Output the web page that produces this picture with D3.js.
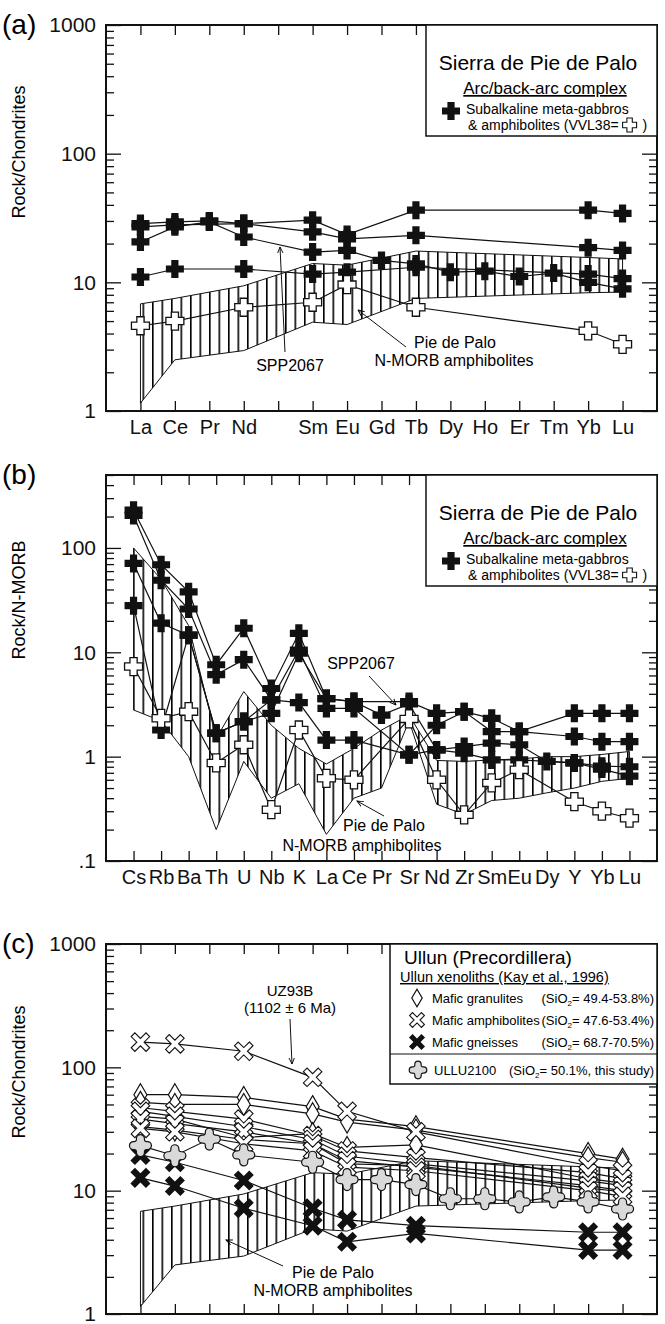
<!DOCTYPE html>
<html>
<head>
<meta charset="utf-8">
<script src="https://cdn.jsdelivr.net/npm/d3@7"></script>
<style>
body { margin: 0; background: #fff; }
svg { display: block; font-family: "Liberation Sans", Arial, sans-serif; }
</style>
</head>
<body>
<svg id="chart" width="665" height="1324"></svg>
<script>
// ---- element orders ----
var reeLabels = ["La", "Ce", "Pr", "Nd", "", "Sm", "Eu", "Gd", "Tb", "Dy", "Ho", "Er", "Tm", "Yb", "Lu"];
var spiderLabels = ["Cs", "Rb", "Ba", "Th", "U", "Nb", "K", "La", "Ce", "Pr", "Sr", "Nd", "Zr", "Sm", "Eu", "Dy", "Y", "Yb", "Lu"];

var yTicksA = [1, 10, 100, 1000];
var yTicksB = [0.1, 1, 10, 100];
var yTicksC = [1, 10, 100, 1000];

// ---- (a) chondrite normalised, Sierra de Pie de Palo ----
var reeGabbro1 = [28.6, 29.5, 30, 28.6, null, 30.4, 23.5, null, 36.4, null, null, null, null, 36.4, 34.3];
var reeGabbro2 = [27, 28, null, 28.6, null, 24.7, 21.8, null, 23.2, null, null, null, null, 18.6, 17.7];
var reeSPP2067 = [20.6, 27, 29.5, 22.5, null, 17.2, 17.7, 14.8, 13.9, 12, 12.2, 11.1, 11.8, 10, 8.9];
var reeGabbro4 = [11, 12.7, null, 12.7, null, 11.6, 12, null, 13.1, null, null, null, null, 11.6, 10.7];
var reeVVL38 = [4.6, 5.0, null, 6.4, null, 7.0, 9.6, null, 6.4, null, null, null, null, 4.2, 3.3];
// N-MORB amphibolite field (also used in c)
var reeMorbUpper = [6.8, 7.5, null, 9.4, null, 14, 13.6, null, 17.5, null, null, null, null, 15.6, 15.2];
var reeMorbLower = [1.15, 2.5, null, 2.95, null, 4.9, 4.7, null, 7.5, null, null, null, null, 8.3, 8.4];

// ---- (b) N-MORB normalised ----
var spGabbro1 = [230, 69, 38, 7.6, 17, 4.5, 15.2, 3.6, 3.37, null, 3.37, 2.6, 2.7, 2.33, 1.74, null, 2.6, 2.6, 2.6];
var spGabbro2 = [205, 49, 26, 6.1, 8.5, 3.5, 10.5, 2.9, 2.9, null, 1.04, 2.0, 2.7, 1.74, 1.74, null, 1.56, 1.39, 1.39];
var spSPP2067 = [71, 19, 14.6, 1.68, 2.17, 2.6, 9.8, 3.6, 3.37, 2.5, 3.2, 1.16, 1.25, 1.35, 1.3, 0.9, 0.87, 0.81, 0.8];
var spGabbro4 = [28, 1.8, 14.6, 1.68, 2.17, 3.5, 3.3, 1.44, 1.44, null, 1.04, 1.16, 1.08, 0.93, 0.93, null, 0.87, 0.76, 0.65];
var spVVL38 = [7.3, 2.33, 2.7, 0.87, 1.3, 0.31, 1.8, 0.62, 0.6, null, 2.3, 0.6, 0.277, 0.56, 0.75, null, 0.37, 0.3, 0.257];
var spMorbUpper = [100, 50, 18, 1.5, 4.2, 2.0, 1.2, 0.85, 1.2, 1.8, 2.5, 0.92, 0.9, 0.93, 0.95, 1.0, 1.0, 1.05, 1.12];
var spMorbLower = [2.8, 2.2, 1.0, 0.2, 0.9, 0.4, 0.55, 0.18, 0.4, 0.5, 2.2, 0.35, 0.28, 0.38, 0.4, 0.45, 0.5, 0.58, 0.62];

// ---- (c) Ullun xenoliths, chondrite normalised ----
var granulites = [
  [60, 60, null, 57, null, 48, 38, null, 33, null, null, null, null, 20, 18],
  [52, 50, null, 50, null, 42, 36, null, 31, null, null, null, null, 18.5, 17],
  [40, 38, null, 27, null, 29, 22.4, null, 23.5, null, null, null, null, 12.5, 11.5],
  [33, 31, null, 26, null, 24, 16.5, null, 16, null, null, null, null, 10.5, 9.8]
];
var amphibolites = [
  [160, 155, null, 135, null, 83, 44, null, 30, null, null, null, null, 16, 14.5],
  [47, 44, null, 38, null, 28, 21, null, 18.5, null, null, null, null, 14, 12.5],
  [44, 40, null, 33, null, 26, 19, null, 16.5, null, null, null, null, 12, 11],
  [38, 35, null, 30, null, 24, 17.5, null, 15.5, null, null, null, null, 11, 10],
  [32, 30, null, 24, null, 21, 15.5, null, 14.5, null, null, null, null, 10, 9]
];
var gneisses = [
  [19.5, 17, null, 12.1, null, 7.2, 5.8, null, 5.2, null, null, null, null, 4.6, 4.6],
  [12.7, 10.9, null, 7.2, null, 5.2, 3.85, null, 4.5, null, null, null, null, 3.3, 3.3]
];
var ullu2100 = [23.2, 19.2, 26.2, 19.5, null, 17, 12.3, 12.3, 11.2, 8.6, 8.6, 8.1, 8.9, 8.1, 7.1];

var ullunLegend = [
  { sym: "diamond", name: "Mafic granulites", si: "49.4-53.8%)" },
  { sym: "xopen", name: "Mafic amphibolites", si: "47.6-53.4%)" },
  { sym: "xfill", name: "Mafic gneisses", si: "68.7-70.5%)" }
];

var boxLeft = 106, boxRight = 657;
var svg = d3.select("#chart");

// ---- defs: hatch + arrow ----
var defs = svg.append("defs");
defs.append("pattern").attr("id", "hatch").attr("patternUnits", "userSpaceOnUse")
  .attr("width", 9.5).attr("height", 8)
  .append("rect").attr("width", 1.6).attr("height", 8).attr("fill", "#000");
defs.append("marker").attr("id", "arrowhead").attr("viewBox", "0 0 10 10")
  .attr("refX", 9).attr("refY", 5).attr("markerWidth", 7).attr("markerHeight", 7)
  .attr("markerUnits", "userSpaceOnUse").attr("orient", "auto")
  .append("path").attr("d", "M0,1 L9,5 L0,9").attr("fill", "none")
  .attr("stroke", "#000").attr("stroke-width", 1.3);

// ---- symbols ----
function plusPath(L, w) {
  return "M" + [-w, -L] + "L" + [w, -L] + "L" + [w, -w] + "L" + [L, -w] + "L" + [L, w] +
    "L" + [w, w] + "L" + [w, L] + "L" + [-w, L] + "L" + [-w, w] + "L" + [-L, w] +
    "L" + [-L, -w] + "L" + [-w, -w] + "Z";
}
function diamondPath(w, h) {
  return "M" + [0, -h] + "L" + [w, 0] + "L" + [0, h] + "L" + [-w, 0] + "Z";
}
function starPath(r, t) {
  var c = t * 0.9;
  return "M" + [-t, -r + t] + "A" + [t, t] + " 0 0 1 " + [t, -r + t] +
    "Q" + [c, -c] + " " + [r - t, -t] + "A" + [t, t] + " 0 0 1 " + [r - t, t] +
    "Q" + [c, c] + " " + [t, r - t] + "A" + [t, t] + " 0 0 1 " + [-t, r - t] +
    "Q" + [-c, c] + " " + [-r + t, t] + "A" + [t, t] + " 0 0 1 " + [-r + t, -t] +
    "Q" + [-c, -c] + " " + [-t, -r + t] + "Z";
}

function symbol(g, type, cx, cy, big) {
  var s = big === false ? 0.8 : 1;
  var p;
  if (type === "plusfill") {
    p = g.append("path").attr("d", plusPath(9 * s, 3.6 * s)).attr("fill", "#111");
  } else if (type === "plusopen") {
    p = g.append("path").attr("d", plusPath(9 * s, 3.6 * s)).attr("fill", "#fff")
      .attr("stroke", "#111").attr("stroke-width", 1.3);
  } else if (type === "diamond") {
    p = g.append("path").attr("d", diamondPath(6.5 * s, 11 * s)).attr("fill", "#fff")
      .attr("stroke", "#111").attr("stroke-width", 1.2);
  } else if (type === "xopen") {
    p = g.append("path").attr("d", plusPath(10.5 * s, 2.6 * s)).attr("fill", "#fff")
      .attr("stroke", "#111").attr("stroke-width", 1.1);
  } else if (type === "xfill") {
    p = g.append("path").attr("d", plusPath(11 * s, 3.2 * s)).attr("fill", "#111");
  } else {
    p = g.append("path").attr("d", starPath(11 * s, 4 * s)).attr("fill", "#d9d9d9")
      .attr("stroke", "#111").attr("stroke-width", 1.2);
  }
  var rot = (type === "xopen" || type === "xfill") ? " rotate(45)" : "";
  p.attr("transform", "translate(" + cx + "," + cy + ")" + rot);
}

function styleAxis(sel, fs) {
  sel.select(".domain").remove();
  sel.attr("font-family", null).attr("font-size", fs || 20);
  sel.selectAll(".tick line").attr("stroke", "#111").attr("stroke-width", 1.3);
  sel.selectAll(".tick text").attr("fill", "#111");
}

function drawPanel(p) {
  var n = p.labels.length;
  var x = d3.scaleLinear().domain([-1, n]).range([boxLeft, boxRight]);
  var y = d3.scaleLog().domain(p.yDomain).range([p.bottom, p.top]);
  var g = svg.append("g");

  var minor = [];
  var lo = Math.floor(Math.log10(p.yDomain[0])), hi = Math.ceil(Math.log10(p.yDomain[1]));
  for (var e = lo; e < hi; e++) {
    for (var k = 2; k <= 9; k++) {
      var v = k * Math.pow(10, e);
      if (v > p.yDomain[0] * 1.0001 && v <= p.yDomain[1] * 1.0001) minor.push(v);
    }
  }

  var axes = g.append("g");
  axes.append("g").attr("transform", "translate(" + boxLeft + ",0)")
    .call(d3.axisLeft(y).tickValues(p.yTicks).tickSize(-15).tickPadding(10).tickFormat(p.yFormat))
    .call(styleAxis, 21);
  axes.append("g").attr("transform", "translate(" + boxLeft + ",0)")
    .call(d3.axisLeft(y).tickValues(minor).tickSize(-8).tickFormat(""))
    .call(styleAxis);
  axes.append("g").attr("transform", "translate(" + boxRight + ",0)")
    .call(d3.axisRight(y).tickValues(p.yTicks).tickSize(-15).tickFormat(""))
    .call(styleAxis);
  axes.append("g").attr("transform", "translate(" + boxRight + ",0)")
    .call(d3.axisRight(y).tickValues(minor).tickSize(-8).tickFormat(""))
    .call(styleAxis);
  axes.append("g").attr("transform", "translate(0," + p.bottom + ")")
    .call(d3.axisBottom(x).tickValues(d3.range(n)).tickSize(-10).tickPadding(9)
      .tickFormat(function (i) { return p.showX ? p.labels[i] : ""; }))
    .call(styleAxis, 20);
  axes.append("g").attr("transform", "translate(0," + p.top + ")")
    .call(d3.axisTop(x).tickValues(d3.range(n)).tickSize(-10).tickFormat(""))
    .call(styleAxis);

  g.append("rect").attr("x", boxLeft).attr("y", p.top)
    .attr("width", boxRight - boxLeft).attr("height", p.bottom - p.top)
    .attr("fill", "none").attr("stroke", "#111").attr("stroke-width", 2);

  // panel letter
  svg.append("text").attr("x", 2).attr("y", p.top + 9).attr("font-size", 28).text(p.letter);

  // y title
  svg.append("text").attr("transform", "translate(25," + p.titleY + ") rotate(-90)")
    .attr("text-anchor", "middle").attr("font-size", 18).text(p.yTitle);

  return { g: g, x: x, y: y };
}

function drawField(panel, upper, lower) {
  var pts = upper.map(function (u, i) { return { i: i, hi: u, lo: lower[i] }; })
    .filter(function (d) { return d.hi != null && d.lo != null; });
  var area = d3.area()
    .x(function (d) { return panel.x(d.i); })
    .y0(function (d) { return panel.y(d.lo); })
    .y1(function (d) { return panel.y(d.hi); });
  panel.g.append("path").datum(pts).attr("d", area)
    .attr("fill", "url(#hatch)").attr("stroke", "#111").attr("stroke-width", 1);
}

function seriesPoints(values) {
  return values.map(function (v, i) { return [i, v]; })
    .filter(function (d) { return d[1] != null; });
}

function drawLine(panel, values) {
  var line = d3.line()
    .x(function (d) { return panel.x(d[0]); })
    .y(function (d) { return panel.y(d[1]); });
  panel.g.append("path").datum(seriesPoints(values)).attr("d", line)
    .attr("fill", "none").attr("stroke", "#111").attr("stroke-width", 1.2);
}

function drawMarkers(panel, values, type) {
  seriesPoints(values).forEach(function (d) {
    symbol(panel.g, type, panel.x(d[0]), panel.y(d[1]));
  });
}

function note(txt, x, y, fs) {
  svg.append("text").attr("x", x).attr("y", y).attr("text-anchor", "middle")
    .attr("font-size", fs || 16).text(txt);
}

function arrow(x1, y1, x2, y2) {
  svg.append("line").attr("x1", x1).attr("y1", y1).attr("x2", x2).attr("y2", y2)
    .attr("stroke", "#111").attr("stroke-width", 1).attr("marker-end", "url(#arrowhead)");
}

function pieLegend(x0, y0) {
  var lg = svg.append("g");
  lg.append("rect").attr("x", x0).attr("y", y0).attr("width", boxRight - x0).attr("height", 111)
    .attr("fill", "#fff").attr("stroke", "#111").attr("stroke-width", 1.5);
  lg.append("text").attr("x", 538).attr("y", y0 + 45).attr("text-anchor", "middle")
    .attr("font-size", 21).text("Sierra de Pie de Palo");
  lg.append("text").attr("x", 545).attr("y", y0 + 69).attr("text-anchor", "middle")
    .attr("font-size", 17).style("text-decoration", "underline").text("Arc/back-arc complex");
  symbol(lg, "plusfill", x0 + 25, y0 + 86);
  lg.append("text").attr("x", x0 + 40).attr("y", y0 + 89).attr("font-size", 14)
    .text("Subalkaline meta-gabbros");
  var t2 = lg.append("text").attr("x", x0 + 42).attr("y", y0 + 105).attr("font-size", 14)
    .text("& amphibolites (VVL38=");
  var len = t2.node().getComputedTextLength();
  lg.append("path").attr("d", plusPath(7, 2.7))
    .attr("transform", "translate(" + (x0 + 42 + len + 11) + "," + (y0 + 100) + ")")
    .attr("fill", "#fff").attr("stroke", "#111").attr("stroke-width", 1.1);
  lg.append("text").attr("x", x0 + 42 + len + 24).attr("y", y0 + 105).attr("font-size", 14).text(")");
}

// =============== (a) ===============
var pa = drawPanel({
  top: 25, bottom: 411, yDomain: [1, 1000], labels: reeLabels, showX: true,
  yTicks: yTicksA, yFormat: d3.format("d"), letter: "(a)", yTitle: "Rock/Chondrites", titleY: 152
});
drawField(pa, reeMorbUpper, reeMorbLower);
[reeGabbro1, reeGabbro2, reeSPP2067, reeGabbro4, reeVVL38].forEach(function (s) { drawLine(pa, s); });
[reeGabbro1, reeGabbro2, reeSPP2067, reeGabbro4].forEach(function (s) { drawMarkers(pa, s, "plusfill"); });
drawMarkers(pa, reeVVL38, "plusopen");
note("SPP2067", 290, 371);
arrow(285, 352, 280, 247);
note("Pie de Palo", 455, 348);
note("N-MORB amphibolites", 454, 366);
arrow(406, 347, 358, 310);
pieLegend(426, 25);

// =============== (b) ===============
var pb = drawPanel({
  top: 475, bottom: 861, yDomain: [0.1, 500], labels: spiderLabels, showX: true,
  yTicks: yTicksB, yFormat: function (v) { return v < 1 ? ".1" : String(v); },
  letter: "(b)", yTitle: "Rock/N-MORB", titleY: 600
});
drawField(pb, spMorbUpper, spMorbLower);
[spGabbro1, spGabbro2, spSPP2067, spGabbro4, spVVL38].forEach(function (s) { drawLine(pb, s); });
[spGabbro1, spGabbro2, spSPP2067, spGabbro4].forEach(function (s) { drawMarkers(pb, s, "plusfill"); });
drawMarkers(pb, spVVL38, "plusopen");
note("SPP2067", 361, 669);
arrow(369, 676, 396, 705);
note("Pie de Palo", 384, 831);
note("N-MORB amphibolites", 362, 851);
arrow(384, 816, 357, 801);
pieLegend(426, 475);

// =============== (c) ===============
var pc = drawPanel({
  top: 944, bottom: 1314, yDomain: [1, 1000], labels: reeLabels, showX: false,
  yTicks: yTicksC, yFormat: d3.format("d"), letter: "(c)", yTitle: "Rock/Chondrites", titleY: 1072
});
drawField(pc, reeMorbUpper, reeMorbLower);
granulites.concat(amphibolites, gneisses, [ullu2100]).forEach(function (s) { drawLine(pc, s); });
granulites.forEach(function (s) { drawMarkers(pc, s, "diamond"); });
amphibolites.forEach(function (s) { drawMarkers(pc, s, "xopen"); });
gneisses.forEach(function (s) { drawMarkers(pc, s, "xfill"); });
drawMarkers(pc, ullu2100, "star");

note("UZ93B", 290, 996, 15);
note("(1102 \u00b1 6 Ma)", 290, 1013, 15);
arrow(290, 1019, 292, 1064);
note("Pie de Palo", 333, 1278);
note("N-MORB amphibolites", 333, 1296);
arrow(283, 1266, 226, 1240);

// legend (c)
(function () {
  var x0 = 390, y0 = 944, lg = svg.append("g");
  lg.append("rect").attr("x", x0).attr("y", y0).attr("width", boxRight - x0).attr("height", 140)
    .attr("fill", "#fff").attr("stroke", "#111").attr("stroke-width", 1.5);
  lg.append("line").attr("x1", x0).attr("x2", boxRight).attr("y1", y0 + 110).attr("y2", y0 + 110)
    .attr("stroke", "#111").attr("stroke-width", 1.2);
  lg.append("text").attr("x", 404).attr("y", y0 + 20).attr("font-size", 19).text("Ullun (Precordillera)");
  lg.append("text").attr("x", 400).attr("y", y0 + 38).attr("font-size", 14.5)
    .style("text-decoration", "underline").text("Ullun xenoliths (Kay et al., 1996)");
  ullunLegend.forEach(function (d, k) {
    var cy = y0 + 54 + k * 22;
    symbol(lg, d.sym, 417, cy, false);
    lg.append("text").attr("x", 432).attr("y", cy + 5).attr("font-size", 13).text(d.name);
    var t = lg.append("text").attr("x", 654).attr("y", cy + 5).attr("font-size", 13).attr("text-anchor", "end");
    t.append("tspan").text("(SiO");
    t.append("tspan").attr("font-size", 8).attr("dy", 3).text("2");
    t.append("tspan").attr("dy", -3).text("=  " + d.si);
  });
  var cy = y0 + 126;
  symbol(lg, "star", 418, cy, false);
  lg.append("text").attr("x", 434).attr("y", cy + 5).attr("font-size", 13).text("ULLU2100");
  var t = lg.append("text").attr("x", 654).attr("y", cy + 5).attr("font-size", 13).attr("text-anchor", "end");
  t.append("tspan").text("(SiO");
  t.append("tspan").attr("font-size", 8).attr("dy", 3).text("2");
  t.append("tspan").attr("dy", -3).text("= 50.1%, this study)");
})();
</script>
</body>
</html>
